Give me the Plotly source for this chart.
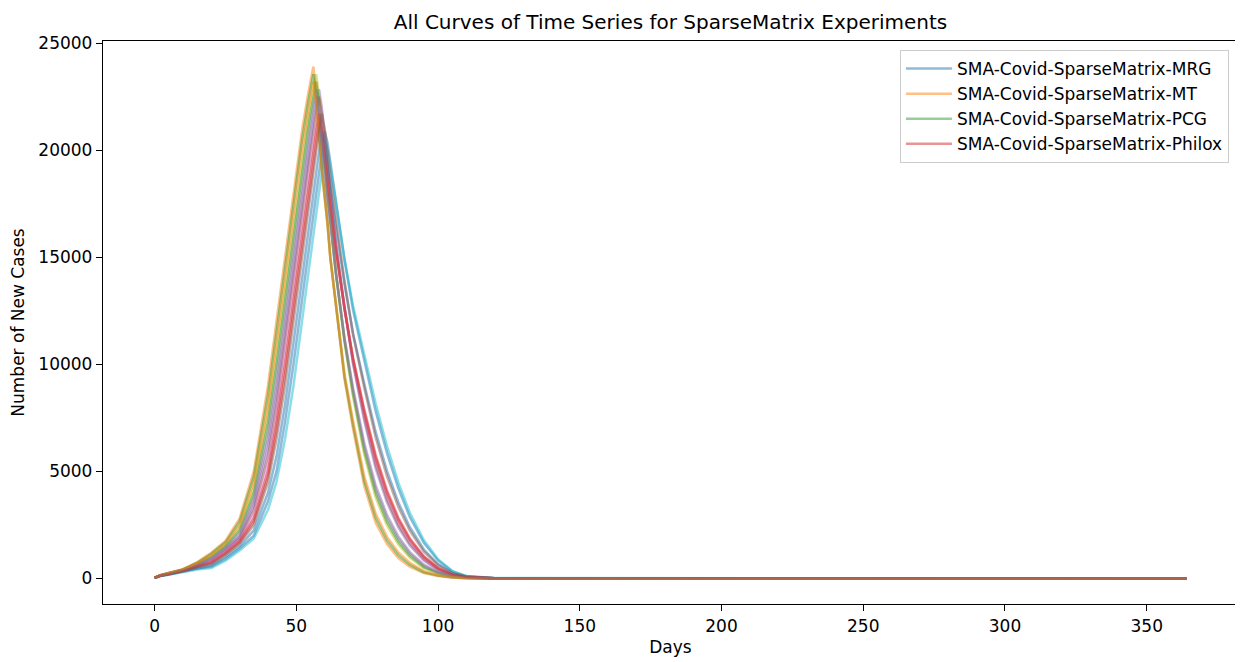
import plotly.graph_objects as go

# Day grid shared by all runs
DAYS = [0, 2, 5, 10, 15, 20, 25, 30, 35, 40, 43, 46, 49, 52, 54, 55, 56, 57, 58, 59,
        60, 61, 62, 64, 67, 70, 74, 78, 82, 86, 90, 95, 100, 105, 110, 120, 364]

# New cases per run, 4 runs per generator
MRG_RUNS = [
    [30, 114, 180, 314, 457, 540, 910, 1400, 2000, 3600, 5000, 7300, 10000, 13000, 15000, 16000, 17000, 18000, 19000, 20000, 20900,
     20350, 19450, 17540, 14880, 12550, 10160, 7810, 5850, 4210, 2880, 1660, 840, 330, 100, 13, 0],
    [30, 134, 225, 379, 622, 870, 1350, 1935, 3400, 6100, 8550, 11500, 14500, 17500, 19500, 20450, 21300, 22100, 22850,
     22000, 20600, 19220, 18070, 15610, 12640, 10010, 7340, 5130, 3540, 2380, 1540, 830, 390, 150, 50, 0, 0],
    [30, 143, 245, 408, 695, 1050, 1560, 2375, 4250, 7700, 10500, 13500, 16500, 19500, 21300, 22100, 22850, 23550,
     22550, 20930, 19360, 18110, 16900, 14280, 11040, 8490, 5760, 3770, 2470, 1580, 970, 480, 230, 85, 26, 0, 0],
    [30, 141, 240, 401, 677, 1000, 1500, 2250, 4000, 7300, 10000, 13000, 16000, 19000, 20900, 21700, 22500, 23200,
     22250, 20690, 19180, 17970, 16790, 14250, 11100, 8640, 5950, 3970, 2640, 1710, 1060, 530, 250, 93, 30, 0, 0],
]
MT_RUNS = [
    [30, 150, 260, 430, 750, 1200, 1750, 2800, 5000, 9000, 12000, 15000, 18000, 20900, 22500, 23200, 23900,
     22800, 21000, 19300, 18000, 16700, 15000, 12800, 9300, 7000, 4300, 2600, 1600, 950, 550, 250, 110, 40, 10, 0, 0],
    [30, 132, 220, 372, 603, 830, 1300, 1870, 3200, 5700, 8100, 11000, 14000, 17000, 19000, 20000, 20900, 21700, 22500,
     21690, 20360, 19030, 17910, 15550, 12660, 10110, 7500, 5310, 3700, 2500, 1640, 890, 420, 155, 54, 5, 0],
    [30, 110, 170, 300, 420, 480, 830, 1300, 1870, 3200, 4500, 6500, 9000, 12000, 14000, 15000, 16000, 17000, 18000, 19000, 20500,
     20010, 19210, 17430, 14920, 12730, 10460, 8160, 6170, 4470, 3080, 1780, 900, 350, 110, 14, 0],
    [30, 126, 205, 351, 548, 710, 1150, 1685, 2650, 4750, 6900, 9500, 12500, 15500, 17500, 18500, 19500, 20450, 21300,
     20610, 19480, 18320, 17300, 15230, 12590, 10310, 7870, 5760, 4110, 2830, 1880, 1040, 490, 180, 64, 7, 0],
]
PCG_RUNS = [
    [30, 148, 255, 423, 732, 1150, 1685, 2650, 4750, 8550, 11500, 14500, 17500, 20450, 22100, 22850, 23550,
     22500, 20780, 19140, 17860, 16610, 14980, 12830, 9430, 7190, 4530, 2820, 1780, 1090, 640, 290, 130, 47, 13, 0, 0],
    [30, 130, 215, 365, 585, 790, 1250, 1810, 3000, 5350, 7700, 10500, 13500, 16500, 18500, 19500, 20450, 21300, 22100,
     21330, 20070, 18800, 17710, 15450, 12640, 10190, 7640, 5470, 3850, 2620, 1720, 940, 440, 165, 57, 6, 0],
    [30, 119, 190, 329, 493, 600, 1000, 1500, 2250, 4000, 5700, 8100, 11000, 14000, 16000, 17000, 18000, 19000, 20000, 20900,
     20300, 19310, 18270, 16410, 13740, 11450, 9070, 6830, 5010, 3550, 2400, 1350, 670, 260, 84, 10, 0],
    [30, 137, 230, 387, 640, 910, 1400, 2000, 3600, 6500, 9000, 12000, 15000, 18000, 20000, 20900, 21700, 22500,
     21630, 20210, 18820, 17670, 16560, 14190, 11230, 8910, 6310, 4340, 2960, 1960, 1240, 640, 300, 110, 38, 0, 0],
]
PHILOX_RUNS = [
    [30, 128, 210, 358, 567, 750, 1200, 1750, 2800, 5000, 7300, 10000, 13000, 16000, 18000, 19000, 20000, 20900, 21700,
     20970, 19770, 18560, 17510, 15340, 12620, 10260, 7760, 5620, 3980, 2730, 1810, 990, 470, 175, 61, 6, 0],
    [30, 139, 235, 394, 658, 955, 1450, 2125, 3800, 6900, 9500, 12500, 15500, 18500, 20450, 21300, 22100, 22850,
     21940, 20450, 19000, 17820, 16680, 14230, 11170, 8780, 6140, 4160, 2810, 1840, 1160, 580, 280, 100, 34, 0, 0],
    [30, 146, 250, 416, 713, 1100, 1620, 2500, 4500, 8100, 11000, 14000, 17000, 20000, 21700, 22500, 23200,
     22190, 20540, 18960, 17720, 16500, 14940, 12840, 9550, 7360, 4740, 3020, 1940, 1210, 730, 340, 150, 56, 16, 0, 0],
    [30, 123, 200, 343, 530, 670, 1100, 1620, 2500, 4500, 6500, 9000, 12000, 15000, 17000, 18000, 19000, 20000, 20900, 21700,
     21020, 19910, 18760, 16770, 13890, 11390, 8890, 6580, 4770, 3340, 2240, 1250, 620, 240, 78, 9, 0],
]

GROUP_NAMES = ["SMA-Covid-SparseMatrix-MRG", "SMA-Covid-SparseMatrix-MT",
               "SMA-Covid-SparseMatrix-PCG", "SMA-Covid-SparseMatrix-Philox"]
GROUPS = [MRG_RUNS, MT_RUNS, PCG_RUNS, PHILOX_RUNS]

X_TICKS = [0, 50, 100, 150, 200, 250, 300, 350]
Y_TICKS = [0, 5000, 10000, 15000, 20000, 25000]

TAB10 = [(31, 119, 180), (255, 127, 14), (44, 160, 44), (214, 39, 40), (148, 103, 189),
         (140, 86, 75), (227, 119, 194), (127, 127, 127), (188, 189, 34), (23, 190, 207)]

fig = go.Figure()
for g, (name, runs) in enumerate(zip(GROUP_NAMES, GROUPS)):
    for r, vals in enumerate(runs):
        c = TAB10[(g + 4 * r) % 10]
        fig.add_trace(go.Scatter(
            x=DAYS, y=vals, mode="lines", name=name,
            legendgroup=name, showlegend=(r == 0),
            line=dict(color=f"rgba({c[0]},{c[1]},{c[2]},0.5)", width=2.5),
        ))

axis_common = dict(
    showline=True, mirror=True, linecolor="black", linewidth=1.3,
    ticks="outside", ticklen=6, tickwidth=1.3, tickcolor="black",
    showgrid=False, zeroline=False, automargin=False,
    tickfont=dict(size=17, color="black"),
)

# The page body has an 8px default margin, so the figure is sized/offset to compensate.
W, H = 1235, 654
fig.update_layout(
    width=W, height=H,
    margin=dict(l=95, r=5, t=33, b=58, autoexpand=False),
    paper_bgcolor="white", plot_bgcolor="white",
    font=dict(family="DejaVu Sans", size=17, color="black"),
    title=dict(text="All Curves of Time Series for SparseMatrix Experiments",
               x=0.5, xref="paper", xanchor="center",
               y=1 - 14 / H, yref="container", yanchor="middle",
               font=dict(size=20, color="black")),
    legend=dict(x=0.992, y=0.984, xanchor="right", yanchor="top",
                bgcolor="rgba(255,255,255,0.8)", bordercolor="#cccccc", borderwidth=1,
                tracegroupgap=0, itemwidth=46, font=dict(size=17, color="black")),
    xaxis=dict(range=[-18.2, 382.2], tickvals=X_TICKS,
               title=dict(text="Days", font=dict(size=17), standoff=6), **axis_common),
    yaxis=dict(range=[-1195, 25100], tickvals=Y_TICKS, tickformat="d",
               title=dict(text="Number of New Cases", font=dict(size=17), standoff=10), **axis_common),
)

fig.write_html("out.html")
